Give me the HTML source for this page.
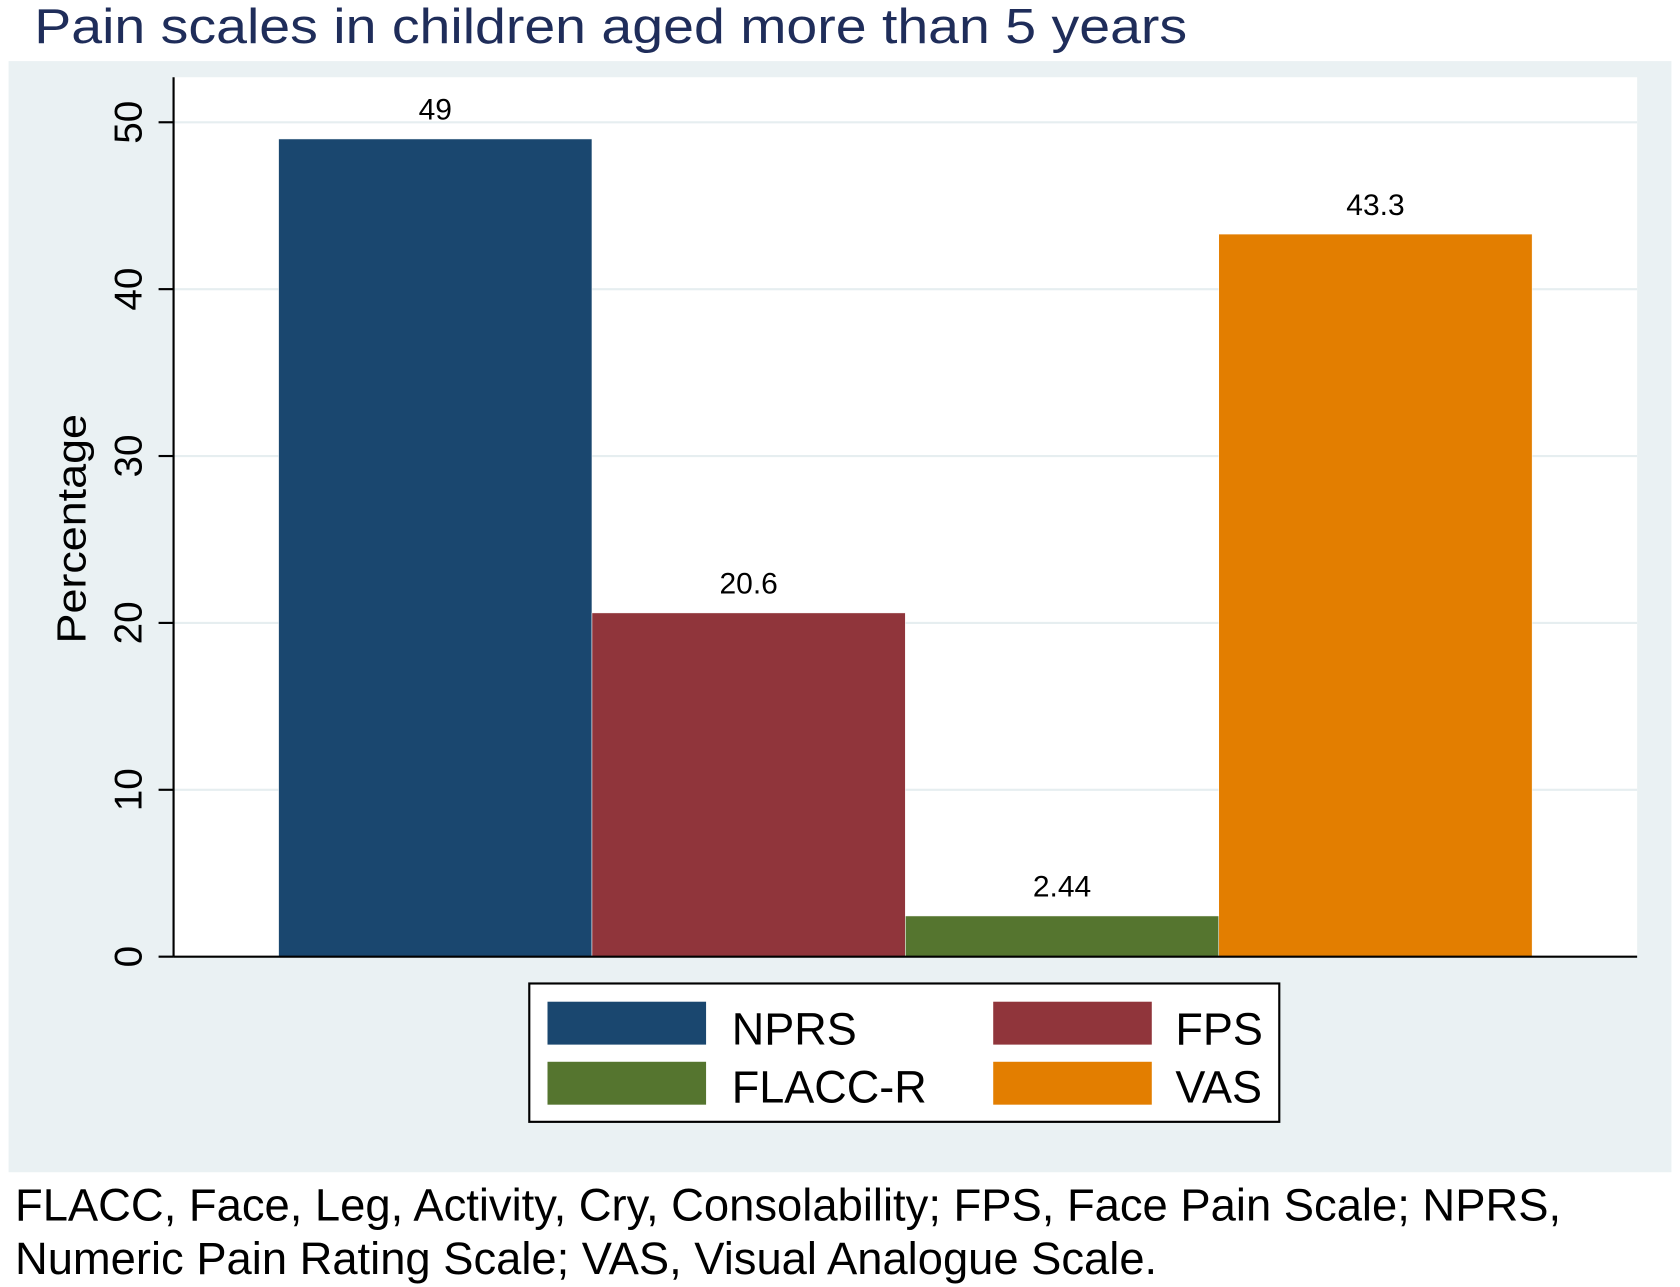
<!DOCTYPE html>
<html><head><meta charset="utf-8"><style>
html,body{margin:0;padding:0;background:#fff;}
svg{display:block;}
text{font-family:"Liberation Sans",sans-serif;}
</style></head><body>
<svg id="chart" width="1680" height="1287" viewBox="0 0 1568 1200" preserveAspectRatio="none" xmlns="http://www.w3.org/2000/svg">
<text x="32" y="40" font-size="46" fill="#1f2d5a" textLength="1076" lengthAdjust="spacingAndGlyphs">Pain scales in children aged more than 5 years</text>
<rect x="8" y="57" width="1552" height="1036" fill="#eaf1f3"/>
<rect x="162" y="72" width="1366" height="820" fill="#fff"/>
<g id="grid"></g>
<g id="bars"></g>
<g id="axis"></g>
<text transform="translate(80,493) rotate(-90)" text-anchor="middle" font-size="38" fill="#000" textLength="214" lengthAdjust="spacingAndGlyphs">Percentage</text>
<g>
<rect x="494" y="917" width="700" height="129" fill="#fff" stroke="#000" stroke-width="2"/>
<rect x="511" y="934" width="148" height="40" fill="#1a476f"/>
<text x="683" y="974" font-size="42">NPRS</text>
<rect x="927" y="934" width="148" height="40" fill="#90353b"/>
<text x="1097" y="974" font-size="42">FPS</text>
<rect x="511" y="990" width="148" height="40" fill="#55752f"/>
<text x="683" y="1028" font-size="42">FLACC-R</text>
<rect x="927" y="990" width="148" height="40" fill="#e37e00"/>
<text x="1097" y="1028" font-size="42">VAS</text>
</g>
<text x="14" y="1138" font-size="42" textLength="1443" lengthAdjust="spacingAndGlyphs">FLACC, Face, Leg, Activity, Cry, Consolability; FPS, Face Pain Scale; NPRS,</text>
<text x="14" y="1188" font-size="42" textLength="1066" lengthAdjust="spacingAndGlyphs">Numeric Pain Rating Scale; VAS, Visual Analogue Scale.</text>
</svg>
<script>
const categories = ["NPRS", "FPS", "FLACC-R", "VAS"];
const values = [49, 20.6, 2.44, 43.3];
const valueLabels = ["49", "20.6", "2.44", "43.3"];
const colors = ["#1a476f", "#90353b", "#55752f", "#e37e00"];
const yTicks = [0, 10, 20, 30, 40, 50];

const NS = "http://www.w3.org/2000/svg";
const y0 = 892, pxPerUnit = (892 - 114) / 50;
function yScale(v){ return y0 - v * pxPerUnit; }
const barStart = 260, barWidth = (1430 - 260) / categories.length;
function xScale(i){ return barStart + i * barWidth; }
function mk(tag, attrs, parent){ const e = document.createElementNS(NS, tag); for (const k in attrs) e.setAttribute(k, attrs[k]); parent.appendChild(e); return e; }

const grid = document.getElementById("grid");
const axis = document.getElementById("axis");
const bars = document.getElementById("bars");

yTicks.forEach(t => {
  const y = yScale(t);
  if (t > 0) {
    const g = mk("line", {x1:162, x2:1528, y1:y, y2:y, stroke:"#e6eef0", "stroke-width":2}, grid);
    
    
  }
  const tk = mk("line", {x1:148, x2:162, y1:y, y2:y, stroke:"#000", "stroke-width":2}, axis);
  
  
  const lb = mk("text", {transform:"translate(132," + y + ") rotate(-90)", "text-anchor":"middle", "font-size":36}, axis);
  lb.textContent = String(t);
  
  
});

const yl = mk("line", {x1:162, x2:162, y1:72, y2:892, stroke:"#000", "stroke-width":2}, axis);


const xl = mk("line", {x1:162, x2:1528, y1:892, y2:892, stroke:"#000", "stroke-width":2}, axis);



categories.forEach((c, i) => {
  const x = xScale(i), y = yScale(values[i]);
  const r = mk("rect", {x:x, y:y, width:barWidth, height:y0 - y, fill:colors[i], stroke:"#fff", "stroke-width":0.5}, bars);
  
  
  const t = mk("text", {x:x + barWidth/2, y:y - 18, "text-anchor":"middle", "font-size":28}, bars);
  t.textContent = valueLabels[i];
  
  
});
</script>
</body></html>
